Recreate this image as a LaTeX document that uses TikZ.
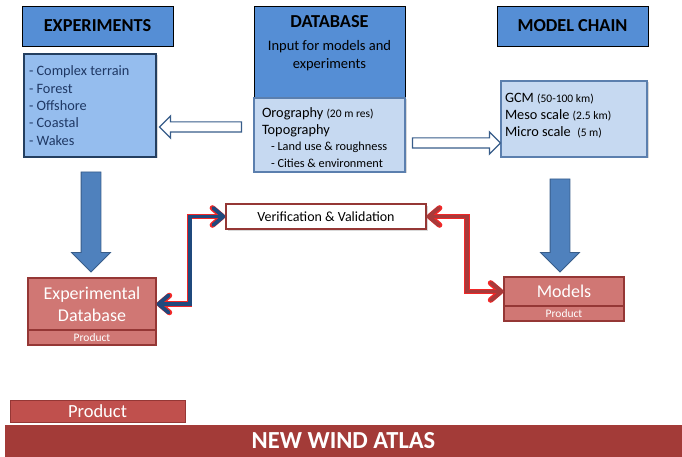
\documentclass[tikz,border=0pt]{standalone}
\usepackage{fontspec}
\setmainfont{Carlito}
\usetikzlibrary{shapes.arrows,shadows,arrows.meta}
\definecolor{titleblue}{HTML}{558ED5}
\definecolor{listblue}{HTML}{95BDEE}
\definecolor{listedge}{HTML}{243F60}
\definecolor{paleblue}{HTML}{C6D9F1}
\definecolor{paleedge}{HTML}{5B7FAE}
\definecolor{navytext}{HTML}{1F3864}
\definecolor{arrowfill}{HTML}{4F81BD}
\definecolor{arrowedge}{HTML}{385D8A}
\definecolor{rosefill}{HTML}{D07774}
\definecolor{roseedge}{HTML}{953735}
\definecolor{productred}{HTML}{C0504D}
\definecolor{atlasred}{HTML}{A33B38}
\definecolor{linkblue}{HTML}{1F497D}
\definecolor{linkred}{HTML}{A83A3A}
\definecolor{glowred}{HTML}{F02828}
\newcommand\normalspacing{\spaceskip=0pt\xspaceskip=0pt\relax}

\begin{document}
\begin{tikzpicture}[x=1pt,y=-1pt,
        every node/.style={execute at begin node=\normalspacing},
        shade/.style={drop shadow={shadow xshift=1.5pt,shadow yshift=-1.5pt,opacity=0.3}},
        titlebox/.style={draw=black, line width=0.8pt, fill=titleblue, inner sep=0pt,
                font=\bfseries\fontsize{18.3}{20}\selectfont},
        listbox/.style={draw=listedge, line width=1.4pt, fill=listblue, shade, inner sep=0pt,
                text=navytext, align=left, font=\fontsize{14.3}{17.3}\selectfont},
        palebox/.style={draw=paleedge, line width=1.2pt, fill=paleblue, shade, inner sep=0pt},
        paletext/.style={inner sep=0pt, align=left, font=\fontsize{14.3}{17}\selectfont},
        rosebox/.style={draw=roseedge, line width=1.2pt, fill=rosefill, text=white, inner sep=0pt,
                align=center, font=\fontsize{18}{22}\selectfont},
        productbox/.style={rosebox, font=\fontsize{11.5}{12}\selectfont},
        hollowarrow/.style={single arrow, draw=arrowedge, fill=white, line width=1.2pt, inner sep=4.5pt,
                minimum width=21pt, single arrow head extend=6pt},
        bigarrow/.style={single arrow, draw=arrowedge, fill=arrowfill, line width=0.8pt, inner sep=9.5pt,
                minimum width=38pt, single arrow head extend=9.5pt, shape border rotate=270},
        barb/.style={{Straight Barb[length=10pt,width=17pt,round]}-{Straight Barb[length=10pt,width=17pt,round]}}
]
        \useasboundingbox (0,0) rectangle (682,457);

        \node[titlebox, minimum width=151, minimum height=40] (exptitle) at (97.5,26) {EXPERIMENTS};
        \node[titlebox, minimum width=151, minimum height=92] (dbtitle) at (329.5,52) {};
        \node[align=center, anchor=north, inner sep=0pt, font=\fontsize{14.5}{18}\selectfont] (dbtext)
                at (329.5,15.5)
                {{\bfseries\fontsize{18.3}{20}\selectfont DATABASE}\\[5pt]Input for models and\\experiments};
        \node[titlebox, minimum width=151, minimum height=40] (modeltitle) at (572.5,26) {MODEL CHAIN};

        \node[listbox, minimum width=132, minimum height=103, text width=127] (explist) at (90,105.5)
                {\hspace*{2.5pt}- Complex terrain\\\hspace*{2.5pt}- Forest\\\hspace*{2.5pt}- Offshore\\
                \hspace*{2.5pt}- Coastal\\\hspace*{2.5pt}- Wakes};
        \node[palebox, minimum width=151, minimum height=74] (dbinfo) at (329.5,135) {};
        \node[paletext, text width=143] (dbinfotext) at ([yshift=-2.5pt]dbinfo.center)
                {\hspace*{4pt}Orography {\fontsize{11.5}{12}\selectfont(20 m res)}\\
                \hspace*{4pt}Topography\\
                {\fontsize{12.3}{16}\selectfont\hspace*{13pt}- Land use \& roughness\\
                \hspace*{13pt}- Cities \& environment}};
        \node[palebox, minimum width=146, minimum height=76] (modellist) at (574,119) {};
        \node[paletext, text width=142] (modeltext) at ([yshift=3.5pt]modellist.center)
                {\hspace*{2pt}GCM {\fontsize{11.5}{12}\selectfont(50-100 km)}\\
                \hspace*{2pt}Meso scale {\fontsize{11.5}{12}\selectfont(2.5 km)}\\
                \hspace*{2pt}Micro scale\ \ {\fontsize{11.5}{12}\selectfont(5 m)}};

        \node[hollowarrow, shape border rotate=180, minimum height=82] (toexp) at (203,127) {};
        \node[hollowarrow, minimum height=88] (tomodel) at (454,143) {};

        \node[bigarrow, minimum height=100] (expdown) at (91,217) {};
        \node[bigarrow, minimum height=93] (modeldown) at (560,220.5) {};

        \node[draw=roseedge, line width=1.5pt, fill=white, shade, minimum width=200, minimum height=25,
                inner sep=0pt, font=\fontsize{14}{16}\selectfont] (verif) at (326,216.5)
                {Verification \& Validation};

        \node[rosebox, minimum width=128, minimum height=52] (expdb) at (92,304) {Experimental\\Database};
        \node[productbox, minimum width=128, minimum height=15] (expprod) at (92,337.5) {Product};
        \node[rosebox, minimum width=120, minimum height=29] (models) at (564,291.5) {Models};
        \node[productbox, minimum width=120, minimum height=15] (modelprod) at (564,313.5) {Product};

        \draw[barb, glowred, line width=5.6pt] (expdb.east) -- ++(33,0) |- (verif.west);
        \draw[barb, linkblue, line width=3.8pt] (expdb.east) -- ++(33,0) |- (verif.west);
        \draw[barb, glowred, line width=5.6pt] (verif.east) -- ++(40,0) |- (models.west);
        \draw[barb, linkred, line width=3.8pt] (verif.east) -- ++(40,0) |- (models.west);

        \node[draw=roseedge, line width=1pt, fill=productred, minimum width=175, minimum height=22,
                inner sep=0pt, text=white, font=\fontsize{18.5}{20}\selectfont] (product) at (97.5,411)
                {Product};
        \fill[atlasred] (5,425) rectangle (682,457);
        \node[text=white, font=\bfseries\fontsize{24.5}{26}\selectfont] (atlas) at (343.5,441)
                {NEW WIND ATLAS};
\end{tikzpicture}
\end{document}
